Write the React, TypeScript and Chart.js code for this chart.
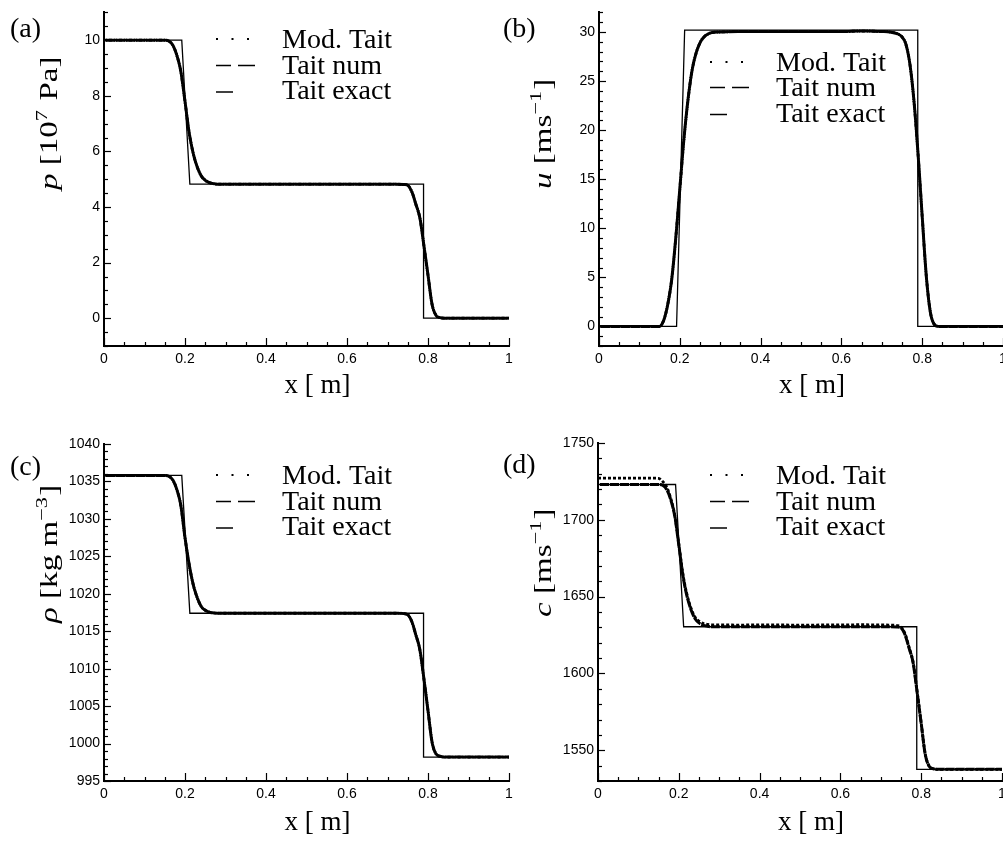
import React, { useEffect, useRef } from 'react';
import { Chart, registerables } from 'chart.js';

Chart.register(...registerables);

// ---------------- data ----------------
const X_TICKS = [0, 0.2, 0.4, 0.6, 0.8, 1];
const X_MINOR = 0.05;

// x positions of the numerical solutions
const X_NUM = [0, 0.05, 0.1, 0.14, 0.15, 0.16, 0.17, 0.18, 0.19, 0.2, 0.21, 0.22, 0.23, 0.24, 0.25, 0.26, 0.27, 0.28, 0.3, 0.35, 0.4, 0.5, 0.6, 0.65, 0.7, 0.72, 0.74, 0.75, 0.76, 0.77, 0.78, 0.79, 0.8, 0.81, 0.82, 0.83, 0.84, 0.86, 0.9, 0.95, 1];
// x positions of the exact solution corners
const X_EXACT = [0, 0.192, 0.212, 0.789, 0.789, 1];

// (a) pressure [1e7 Pa]
const P_NUM = [10, 10, 10, 10, 10, 9.97, 9.82, 9.45, 8.85, 7.8, 6.7, 5.95, 5.45, 5.12, 4.96, 4.88, 4.84, 4.82, 4.82, 4.82, 4.82, 4.82, 4.82, 4.82, 4.82, 4.82, 4.81, 4.78, 4.55, 4.1, 3.6, 2.6, 1.55, 0.5, 0.1, 0.02, 0, 0, 0, 0, 0];
const P_MOD = [10, 10, 10, 10, 10, 9.97, 9.82, 9.45, 8.85, 7.8, 6.7, 5.95, 5.45, 5.12, 4.96, 4.88, 4.84, 4.82, 4.82, 4.82, 4.82, 4.82, 4.82, 4.82, 4.82, 4.82, 4.81, 4.78, 4.55, 4.1, 3.6, 2.6, 1.55, 0.5, 0.1, 0.02, 0, 0, 0, 0, 0];
const P_EXACT = [10, 10, 4.82, 4.82, 0, 0];
const P_TICKS = [0, 2, 4, 6, 8, 10];

// (b) velocity [m/s]
const U_NUM = [0, 0, 0, 0, 0, 0.6, 2.2, 4.8, 9, 14, 19, 23, 26, 27.8, 28.9, 29.5, 29.8, 29.95, 30.0, 30.05, 30.05, 30.05, 30.05, 30.1, 30.05, 30.0, 29.8, 29.5, 28.7, 26.6, 22.8, 17.4, 11.2, 5.2, 1.5, 0.2, 0, 0, 0, 0, 0];
const U_MOD = [0, 0, 0, 0, 0, 0.6, 2.2, 4.8, 9, 14, 19, 23, 26, 27.8, 28.9, 29.5, 29.8, 29.95, 30.0, 30.05, 30.05, 30.05, 30.05, 30.1, 30.05, 30.0, 29.8, 29.5, 28.7, 26.6, 22.8, 17.4, 11.2, 5.2, 1.5, 0.2, 0, 0, 0, 0, 0];
const U_EXACT = [0, 0, 30.2, 30.2, 0, 0];
const U_TICKS = [0, 5, 10, 15, 20, 25, 30];

// (c) density [kg/m3]
const RHO_NUM = [1035.8, 1035.8, 1035.8, 1035.8, 1035.8, 1035.7, 1035.2, 1033.9, 1031.7, 1027.5, 1024, 1021.3, 1019.5, 1018.3, 1017.8, 1017.55, 1017.45, 1017.4, 1017.4, 1017.4, 1017.4, 1017.4, 1017.4, 1017.4, 1017.4, 1017.4, 1017.35, 1017.2, 1016.3, 1014.5, 1012.5, 1008.6, 1004.4, 1000.2, 998.6, 998.3, 998.2, 998.2, 998.2, 998.2, 998.2];
const RHO_MOD = [1035.8, 1035.8, 1035.8, 1035.8, 1035.8, 1035.7, 1035.2, 1033.9, 1031.7, 1027.5, 1024, 1021.3, 1019.5, 1018.3, 1017.8, 1017.55, 1017.45, 1017.4, 1017.4, 1017.4, 1017.4, 1017.4, 1017.4, 1017.4, 1017.4, 1017.4, 1017.35, 1017.2, 1016.3, 1014.5, 1012.5, 1008.6, 1004.4, 1000.2, 998.6, 998.3, 998.2, 998.2, 998.2, 998.2, 998.2];
const RHO_EXACT = [1035.8, 1035.8, 1017.4, 1017.4, 998.2, 998.2];
const RHO_TICKS = [995, 1000, 1005, 1010, 1015, 1020, 1025, 1030, 1035, 1040];

// (d) speed of sound [m/s]
const C_NUM = [1723, 1723, 1723, 1723, 1723, 1722.5, 1719.8, 1713.2, 1702.4, 1683.6, 1664, 1650.6, 1641.7, 1635.8, 1632.9, 1631.5, 1630.8, 1630.4, 1630.4, 1630.4, 1630.4, 1630.4, 1630.4, 1630.4, 1630.4, 1630.4, 1630.2, 1629.7, 1625.2, 1616.5, 1606.9, 1587.6, 1567.5, 1547.3, 1539.5, 1538, 1537.6, 1537.6, 1537.6, 1537.6, 1537.6];
const C_MOD = [1727.2, 1727.2, 1727.2, 1727.1, 1727, 1725, 1721.5, 1714, 1703, 1684.5, 1665, 1651.6, 1642.7, 1636.8, 1634, 1632.6, 1632, 1631.6, 1631.6, 1631.5, 1631.6, 1631.5, 1631.6, 1631.7, 1631.6, 1631.5, 1631.2, 1630.3, 1625.8, 1617, 1607.3, 1588, 1567.8, 1547.5, 1539.6, 1538, 1537.6, 1537.6, 1537.6, 1537.6, 1537.6];
const C_EXACT = [1723, 1723, 1630.4, 1630.4, 1537.6, 1537.6];
const C_TICKS = [1550, 1600, 1650, 1700, 1750];

const LEGEND_LABELS = ['Mod. Tait', 'Tait num', 'Tait exact'];

// ---------------- layout ----------------
type Seg = { t: string; it?: boolean; sup?: boolean };
interface Panel {
  key: string;
  box: { L: number; T: number; W: number; H: number };
  area: { l: number; r: number; t: number; b: number };
  yMin: number; yMax: number; yTicks: number[]; yMinor: number;
  mod: number[]; num: number[]; exact: number[];
  yTitle: Seg[]; yTitleX: number; yTitleY: number;
  xTitleBase: number;
  label: string; labelX: number; labelBase: number;
  legX: number; legBase: number[];
}

const PANELS: Panel[] = [
  {
    key: 'a', box: { L: 0, T: 0, W: 525, H: 420 }, area: { l: 104, r: 509, t: 7, b: 346 },
    yMin: -1, yMax: 11, yTicks: P_TICKS, yMinor: 0.5, mod: P_MOD, num: P_NUM, exact: P_EXACT,
    yTitle: [{ t: 'p', it: true }, { t: ' [10' }, { t: '7', sup: true }, { t: ' Pa]' }], yTitleX: 57, yTitleY: 190,
    xTitleBase: 393, label: '(a)', labelX: 10, labelBase: 37, legX: 282, legBase: [48, 74, 99],
  },
  {
    key: 'b', box: { L: 495, T: 0, W: 525, H: 420 }, area: { l: 599, r: 1003, t: 7, b: 346 },
    yMin: -2, yMax: 32, yTicks: U_TICKS, yMinor: 1, mod: U_MOD, num: U_NUM, exact: U_EXACT,
    yTitle: [{ t: 'u', it: true }, { t: ' [ms' }, { t: '\u22121', sup: true }, { t: ']' }], yTitleX: 551, yTitleY: 189,
    xTitleBase: 393, label: '(b)', labelX: 503, labelBase: 37, legX: 776, legBase: [71, 96, 121.5],
  },
  {
    key: 'c', box: { L: 0, T: 420, W: 525, H: 421 }, area: { l: 104, r: 509, t: 444, b: 781 },
    yMin: 995, yMax: 1040, yTicks: RHO_TICKS, yMinor: 1, mod: RHO_MOD, num: RHO_NUM, exact: RHO_EXACT,
    yTitle: [{ t: '\u03c1', it: true }, { t: ' [kg m' }, { t: '\u22123', sup: true }, { t: ']' }], yTitleX: 57, yTitleY: 623,
    xTitleBase: 830, label: '(c)', labelX: 10, labelBase: 475, legX: 282, legBase: [484, 510, 535],
  },
  {
    key: 'd', box: { L: 495, T: 420, W: 525, H: 421 }, area: { l: 598, r: 1002, t: 443, b: 781 },
    yMin: 1530, yMax: 1750, yTicks: C_TICKS, yMinor: 10, mod: C_MOD, num: C_NUM, exact: C_EXACT,
    yTitle: [{ t: 'c', it: true }, { t: ' [ms' }, { t: '\u22121', sup: true }, { t: ']' }], yTitleX: 551, yTitleY: 617,
    xTitleBase: 830, label: '(d)', labelX: 503, labelBase: 473, legX: 776, legBase: [484, 510, 535],
  },
];

const SERIF = '"Liberation Serif", "Times New Roman", serif';
const SANS = 'Liberation Sans';

function segFont(s: Seg) {
  if (s.sup) return `19px ${SERIF}`;
  if (s.it) return `italic 28px ${SERIF}`;
  return `28px ${SERIF}`;
}

function drawDeco(chart: any, p: Panel) {
  const ctx: CanvasRenderingContext2D = chart.ctx;
  const xs = chart.scales.x;
  const ys = chart.scales.y;
  const { left, bottom } = chart.chartArea;
  const ox = p.box.L;
  const oy = p.box.T;
  ctx.save();
  ctx.strokeStyle = '#000';
  ctx.fillStyle = '#000';
  ctx.lineWidth = 1.2;

  // x ticks (inward)
  const nx = Math.round(1 / X_MINOR);
  for (let i = 0; i <= nx; i++) {
    const v = i * X_MINOR;
    const px = Math.round(xs.getPixelForValue(v)) + 0.5;
    const major = X_TICKS.some((t) => Math.abs(t - v) < 1e-6);
    const len = major ? 8 : 4;
    ctx.beginPath();
    ctx.moveTo(px, bottom);
    ctx.lineTo(px, bottom - len);
    ctx.stroke();
  }
  // y ticks (inward)
  const ny = Math.round((p.yMax - p.yMin) / p.yMinor);
  for (let i = 0; i <= ny; i++) {
    const v = p.yMin + i * p.yMinor;
    const py = Math.round(ys.getPixelForValue(v)) + 0.5;
    const major = p.yTicks.some((t) => Math.abs(t - v) < 1e-6);
    const len = major ? 7 : 4;
    ctx.beginPath();
    ctx.moveTo(left, py);
    ctx.lineTo(left + len, py);
    ctx.stroke();
  }

  // panel label
  ctx.textAlign = 'left';
  ctx.textBaseline = 'alphabetic';
  ctx.font = `28px ${SERIF}`;
  ctx.fillText(p.label, p.labelX - ox, p.labelBase - oy);

  // legend
  LEGEND_LABELS.forEach((lab, i) => ctx.fillText(lab, p.legX - ox, p.legBase[i] - oy));
  const sx = p.legX - 66 - ox;
  const yDot = p.legBase[0] - 9 - oy;
  [0, 15.5, 31].forEach((d) => ctx.fillRect(sx + d, yDot - 1, 2, 2));
  ctx.lineWidth = 1.5;
  const yDash = p.legBase[1] - 8.5 - oy;
  ctx.beginPath();
  ctx.moveTo(sx, yDash); ctx.lineTo(sx + 15, yDash);
  ctx.moveTo(sx + 22, yDash); ctx.lineTo(sx + 39, yDash);
  ctx.stroke();
  const ySol = p.legBase[2] - 7 - oy;
  ctx.beginPath();
  ctx.moveTo(sx, ySol); ctx.lineTo(sx + 17, ySol);
  ctx.stroke();

  // x title
  ctx.font = `27px ${SERIF}`;
  const cx = (p.area.l + p.area.r) / 2 - 22 - ox;
  ctx.fillText('x [ m]', cx, p.xTitleBase - oy);

  // y title (rotated)
  ctx.save();
  ctx.translate(p.yTitleX - ox, p.yTitleY - oy);
  ctx.rotate(-Math.PI / 2);
  ctx.scale(1.18, 0.9);
  let cur = 0;
  p.yTitle.forEach((s) => {
    ctx.font = segFont(s);
    ctx.fillText(s.t, cur, s.sup ? -11 : 0);
    cur += ctx.measureText(s.t).width + (s.sup ? 1 : 0);
  });
  ctx.restore();

  ctx.restore();
}

function makeConfig(p: Panel): any {
  const toPts = (xs: number[], ys: number[]) => xs.map((x, i) => ({ x, y: ys[i] }));
  const tickFont = { family: SANS, size: 14 };
  return {
    type: 'line',
    data: {
      datasets: [
        {
          label: LEGEND_LABELS[0], data: toPts(X_NUM, p.mod), borderColor: '#000', borderWidth: 2.8,
          borderDash: [3, 2], pointRadius: 0, cubicInterpolationMode: 'monotone', fill: false,
        },
        {
          label: LEGEND_LABELS[1], data: toPts(X_NUM, p.num), borderColor: '#000', borderWidth: 3,
          borderDash: [9, 1], borderDashOffset: 8, pointRadius: 0, cubicInterpolationMode: 'monotone', fill: false,
        },
        {
          label: LEGEND_LABELS[2], data: toPts(X_EXACT, p.exact), borderColor: '#000', borderWidth: 1.3,
          pointRadius: 0, tension: 0, fill: false,
        },
      ],
    },
    options: {
      animation: false,
      responsive: false,
      devicePixelRatio: 1,
      events: [],
      layout: {
        autoPadding: false,
        padding: { left: 0, top: p.area.t - p.box.T, right: p.box.L + p.box.W - p.area.r, bottom: 0 },
      },
      plugins: { legend: { display: false }, tooltip: { enabled: false } },
      scales: {
        x: {
          type: 'linear', min: 0, max: 1,
          afterBuildTicks: (s: any) => { s.ticks = X_TICKS.map((value) => ({ value })); },
          afterFit: (s: any) => { s.height = p.box.T + p.box.H - p.area.b; },
          grid: { display: false, drawTicks: false },
          border: { display: true, color: '#000', width: 2 },
          ticks: { color: '#000', font: tickFont, padding: 5, maxRotation: 0, autoSkip: false, callback: (v: any) => String(v) },
        },
        y: {
          type: 'linear', min: p.yMin, max: p.yMax,
          afterBuildTicks: (s: any) => { s.ticks = p.yTicks.map((value) => ({ value })); },
          afterFit: (s: any) => { s.width = p.area.l - p.box.L; },
          grid: { display: false, drawTicks: false },
          border: { display: true, color: '#000', width: 2 },
          ticks: { color: '#000', font: tickFont, padding: 4, autoSkip: false, callback: (v: any) => String(v) },
        },
      },
    },
    plugins: [{ id: 'deco' + p.key, afterDraw: (chart: any) => drawDeco(chart, p) }],
  };
}

function PanelChart({ p }: { p: Panel }) {
  const ref = useRef<HTMLCanvasElement>(null);
  useEffect(() => {
    const c = ref.current;
    if (!c) return;
    const chart = new Chart(c, makeConfig(p));
    return () => chart.destroy();
  }, [p]);
  return (
    <canvas
      ref={ref}
      width={p.box.W}
      height={p.box.H}
      style={{ position: 'absolute', left: p.box.L, top: p.box.T, width: p.box.W, height: p.box.H }}
    />
  );
}

export default function App() {
  return (
    <div style={{ position: 'fixed', left: 0, top: 0, width: 1003, height: 841, overflow: 'hidden', background: '#fff' }}>
      {PANELS.map((p) => <PanelChart key={p.key} p={p} />)}
    </div>
  );
}
